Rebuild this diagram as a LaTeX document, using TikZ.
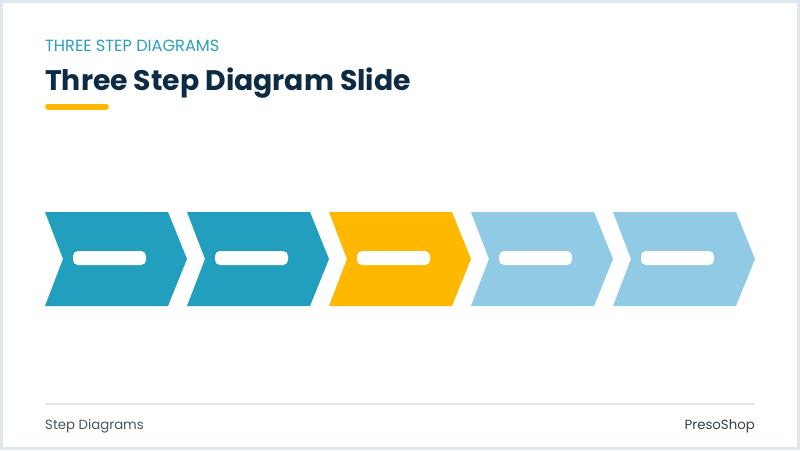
\documentclass[tikz,border=0pt]{standalone}
\usepackage{fontspec}
\setmainfont{Poppins}
\definecolor{frameclr}{HTML}{DDE9EE}
\definecolor{tealA}{HTML}{229FBF}
\definecolor{goldA}{HTML}{FFB800}
\definecolor{skyA}{HTML}{90CAE4}
\definecolor{navyA}{HTML}{0D2B45}
\definecolor{subA}{HTML}{2A9FBE}
\definecolor{footA}{HTML}{4A5560}
\definecolor{footB}{HTML}{343F47}
\definecolor{ruleA}{HTML}{E1E8EC}
\tikzset{
  chev/.style={fill=#1, draw=none},
  pill/.style={fill=white, draw=none, rounded corners=5pt, minimum width=73pt, minimum height=14pt, inner sep=0pt},
  lbl/.style={inner sep=0pt, anchor=base west},
}
\begin{document}
\begin{tikzpicture}[x=1pt,y=-1pt]
\useasboundingbox (0,0) rectangle (800,450);
\fill[frameclr] (0,0) rectangle (800,450);
\fill[white] (3,3) rectangle (797,447);
% header
\node[lbl, text=subA, font=\fontsize{16.2}{18}\selectfont] (sub) at (45,51.5) {THREE STEP DIAGRAMS};
\node[lbl, text=navyA, font=\fontsize{28.3}{32}\selectfont\bfseries] (title) at (45,90) {Three Step Diagram Slide};
\draw[goldA, line width=6pt, line cap=round] (48,106.5) -- (106,106.5);
% chevrons
\foreach \i/\c in {0/tealA,1/tealA,2/goldA,3/skyA,4/skyA}{
  \pgfmathsetmacro{\xo}{45+142*\i}
  \fill[chev=\c] (\xo,212) -- (\xo+123,212) -- (\xo+142,259) -- (\xo+123,306) -- (\xo,306) -- (\xo+18,259) -- cycle;
  \node[pill] (p\i) at (\xo+64.5,258) {};
}
% footer
\draw[ruleA, line width=2pt] (45,403.5) -- (755,403.5);
\node[lbl, text=footA, font=\fontsize{13.3}{15}\selectfont] (fl) at (45,429) {Step Diagrams};
\node[inner sep=0pt, anchor=base east, text=footB, font=\fontsize{13.3}{15}\selectfont] (fr) at (755,429) {PresoShop};
\end{tikzpicture}
\end{document}
